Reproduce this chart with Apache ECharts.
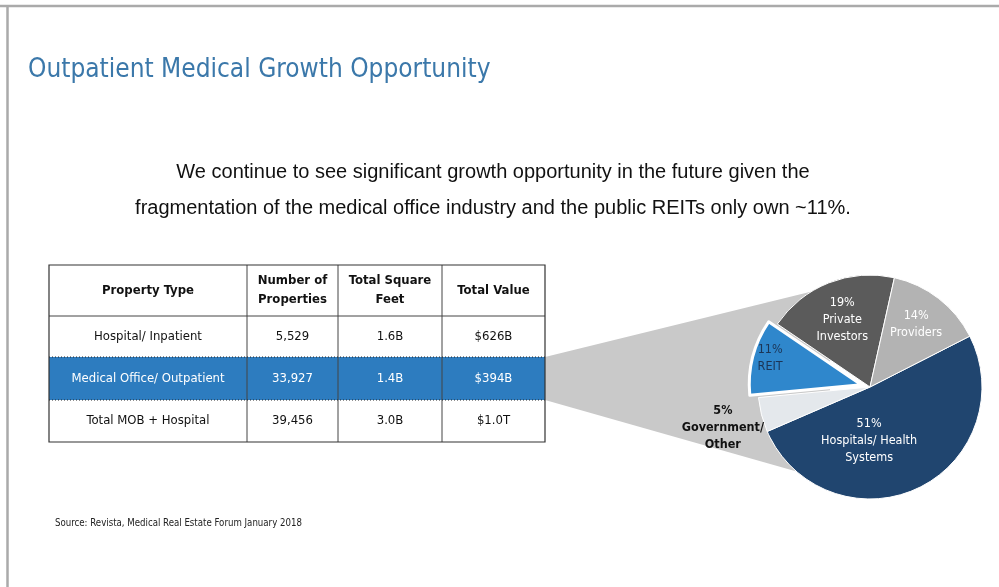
<!DOCTYPE html>
<html>
<head>
<meta charset="utf-8">
<script src="https://cdn.jsdelivr.net/npm/echarts@6/dist/echarts.min.js"></script>
<style>
html, body { margin: 0; padding: 0; background: #fff; }
#main { width: 999px; height: 587px; }
</style>
</head>
<body>
<div id="main"></div>
<script>
// pie: who owns medical office buildings (%)
const ownerNames = ['Hospitals/ Health\nSystems', 'Government/\nOther', 'REIT', 'Private\nInvestors', 'Providers'];
const ownerShares = [51, 5, 11, 19, 14];

// table
const tableHeaders = ['Property Type', 'Number of\nProperties', 'Total Square\nFeet', 'Total Value'];
const propertyTypes = ['Hospital/ Inpatient', 'Medical Office/ Outpatient', 'Total MOB + Hospital'];
const propertyCounts = ['5,529', '33,927', '39,456'];
const squareFeet = ['1.6B', '1.4B', '3.0B'];
const totalValues = ['$626B', '$394B', '$1.0T'];

const FONT = "'Liberation Sans Narrow', 'DejaVu Sans Condensed', Roboto, sans-serif";
const sliceColors = ['#20456f', '#e4e8ec', '#2f87cc', '#5b5b5b', '#b3b3b3'];
const labelColors = ['#fff', '#111', '#1c3556', '#fff', '#fff'];
const labelNudge = [[-26, 0], [-90, 26], [-34, -12], [-6, -12], [10, -16]];

const pieCenter = [870, 387];
const pieRadius = 112;

// table layout
const colX = [49, 247, 338, 442, 545];
const rowY = [265, 316, 357, 400, 442];
const highlightRow = 1;

const chart = echarts.init(document.getElementById('main'));

function cellText(x, y, text, opts) {
    return {
        type: 'text',
        x: x,
        y: y,
        z: 20,
        style: Object.assign({
            text: text,
            font: '13px ' + FONT,
            fill: '#111',
            textAlign: 'center',
            textVerticalAlign: 'middle',
            lineHeight: 19
        }, opts || {})
    };
}

function hLine(x1, x2, y, stroke, dash) {
    return {
        type: 'line', z: 21,
        shape: { x1: x1, y1: y, x2: x2, y2: y },
        style: { stroke: stroke || '#444', lineWidth: 1, lineDash: dash || null }
    };
}

function vLine(x, y1, y2, stroke, dash) {
    return {
        type: 'line', z: 21,
        shape: { x1: x, y1: y1, x2: x, y2: y2 },
        style: { stroke: stroke || '#444', lineWidth: 1, lineDash: dash || null }
    };
}

const elements = [];

// slide frame
elements.push(hLine(0, 999, 6, '#aaa'));
elements[0].style.lineWidth = 2.5;
elements.push(vLine(7.5, 6, 587, '#aaa'));
elements[1].style.lineWidth = 2.5;

// subtitle + source
elements.push({
    type: 'text', x: 493, y: 190,
    style: {
        text: 'We continue to see significant growth opportunity in the future given the\nfragmentation of the medical office industry and the public REITs only own ~11%.',
        font: '20px Liberation Sans, Arial, sans-serif',
        fill: '#111', textAlign: 'center', textVerticalAlign: 'middle', lineHeight: 36
    }
});
elements.push({
    type: 'text', x: 55, y: 523,
    style: {
        text: 'Source: Revista, Medical Real Estate Forum January 2018',
        font: '9.6px ' + FONT, fill: '#222', textVerticalAlign: 'middle'
    }
});

// grey callout from the highlighted row to the pie
elements.push({
    type: 'polygon', z: 0,
    shape: {
        points: [
            [colX[4], rowY[highlightRow + 1]],
            [pieCenter[0] - 40, pieCenter[1] - 100],
            [pieCenter[0] - 40, pieCenter[1] + 94],
            [colX[4], rowY[highlightRow + 2]]
        ]
    },
    style: { fill: '#c9c9c9' }
});

// highlighted row fill
elements.push({
    type: 'rect', z: 10,
    shape: { x: colX[0], y: rowY[highlightRow + 1], width: colX[4] - colX[0], height: rowY[highlightRow + 2] - rowY[highlightRow + 1] },
    style: { fill: '#2d7cbf' }
});

// table grid
elements.push({
    type: 'rect', z: 22,
    shape: { x: colX[0], y: rowY[0], width: colX[4] - colX[0], height: rowY[4] - rowY[0] },
    style: { fill: null, stroke: '#333', lineWidth: 1.2 }
});
for (let i = 1; i < colX.length - 1; i++) {
    elements.push(vLine(colX[i], rowY[0], rowY[4]));
}
elements.push(hLine(colX[0], colX[4], rowY[1]));
elements.push(hLine(colX[0], colX[4], rowY[2], '#222', [1, 2]));
elements.push(hLine(colX[0], colX[4], rowY[3], '#222', [1, 2]));

// header text
tableHeaders.forEach((h, c) => {
    elements.push(cellText((colX[c] + colX[c + 1]) / 2, (rowY[0] + rowY[1]) / 2, h, { font: 'bold 13px ' + FONT }));
});

// body text
propertyTypes.forEach((p, r) => {
    const cells = [p, propertyCounts[r], squareFeet[r], totalValues[r]];
    const y = (rowY[r + 1] + rowY[r + 2]) / 2;
    cells.forEach((t, c) => {
        elements.push(cellText((colX[c] + colX[c + 1]) / 2, y, t, {
            fill: r === highlightRow ? '#fff' : '#111'
        }));
    });
});

const option = {
    backgroundColor: '#fff',
    animation: false,
    title: {
        text: 'Outpatient Medical Growth Opportunity',
        left: 23,
        top: 52,
        textStyle: { fontFamily: FONT, fontSize: 26, fontWeight: 'normal', color: '#3b78aa' }
    },
    graphic: { elements: elements },
    series: [{
        type: 'pie',
        center: pieCenter,
        radius: [0, pieRadius],
        startAngle: 27,
        clockwise: true,
        selectedMode: 'single',
        selectedOffset: 9,
        z: 5,
        emphasis: { disabled: true },
        label: {
            position: 'inside',
            fontFamily: FONT,
            fontSize: 12.5,
            lineHeight: 17,
            formatter: p => p.value + '%\n' + p.name
        },
        labelLine: { show: false },
        labelLayout: p => ({ dx: labelNudge[p.dataIndex][0], dy: labelNudge[p.dataIndex][1] }),
        data: ownerShares.map((v, i) => ({
            name: ownerNames[i],
            value: v,
            selected: i === 2,
            itemStyle: {
                color: sliceColors[i],
                borderColor: '#fff',
                borderWidth: i === 2 ? 3 : 1
            },
            select: { itemStyle: { color: sliceColors[i], borderColor: '#fff', borderWidth: 3 } },
            label: {
                color: labelColors[i],
                fontWeight: i === 1 ? 'bold' : 'normal'
            }
        }))
    }]
};

chart.setOption(option);
</script>
</body>
</html>
